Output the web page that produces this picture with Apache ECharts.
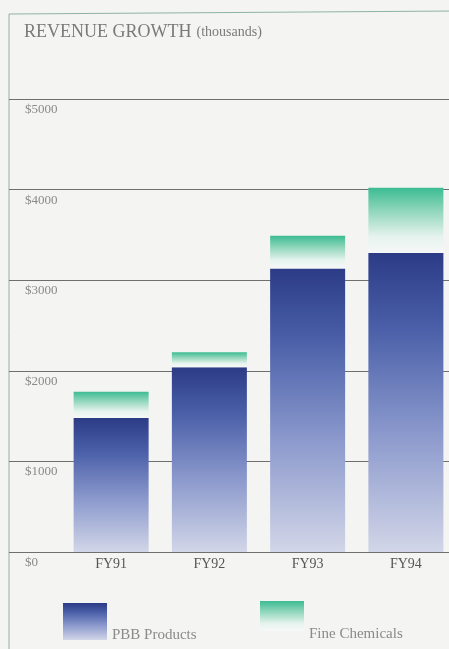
<!DOCTYPE html>
<html>
<head>
<meta charset="utf-8">
<script src="https://cdn.jsdelivr.net/npm/echarts@6/dist/echarts.min.js"></script>
<style>
html,body{margin:0;padding:0;background:#f4f4f2;overflow:hidden;}
#c{width:455px;height:649px;}
</style>
</head>
<body>
<div id="c"></div>
<script>
var categories = ['FY91', 'FY92', 'FY93', 'FY94'];
var pbbProducts = [1480, 2040, 3130, 3300];
var fineChemicals = [290, 165, 360, 720];
var yTicks = [0, 1000, 2000, 3000, 4000, 5000];

var chart = echarts.init(document.getElementById('c'));
var serif = '"Liberation Serif", "DejaVu Serif", serif';

var blueGrad = new echarts.graphic.LinearGradient(0, 0, 0, 1, [
  {offset: 0, color: '#2c3b86'},
  {offset: 0.25, color: '#4a5fa8'},
  {offset: 0.6, color: '#8a98cc'},
  {offset: 1, color: '#d2d6e8'}
]);
var greenGrad = new echarts.graphic.LinearGradient(0, 0, 0, 1, [
  {offset: 0, color: '#3cbc93'},
  {offset: 0.35, color: '#8fd6bb'},
  {offset: 0.75, color: '#e6f3ee'},
  {offset: 1, color: '#f6f8f7'}
]);

chart.setOption({
  backgroundColor: '#f4f4f2',
  animation: false,
  title: {
    text: '{a|REVENUE GROWTH} {b|(thousands)}',
    left: 24, top: 23, padding: 0,
    textStyle: {
      rich: {
        a: {fontFamily: serif, fontSize: 18, fontWeight: 'normal', color: '#7a7a7a'},
        b: {fontFamily: serif, fontSize: 14, fontWeight: 'normal', color: '#7a7a7a'}
      }
    }
  },
  graphic: [
    {type: 'line', shape: {x1: 9, y1: 14, x2: 455, y2: 11}, style: {stroke: '#8fb2a6', lineWidth: 1}, silent: true},
    {type: 'line', shape: {x1: 9, y1: 14, x2: 9, y2: 649}, style: {stroke: '#8fb2a6', lineWidth: 1}, silent: true}
  ],
  legend: [
    {data: ['PBB Products'], left: 63, top: 603, padding: 0, icon: 'rect',
     itemWidth: 44, itemHeight: 37,
     formatter: function (n) { return '{t|' + n + '}'; },
     textStyle: {rich: {t: {fontFamily: serif, fontSize: 15, color: '#8a8a8a', padding: [28, 0, 0, 0]}}}},
    {data: ['Fine Chemicals'], left: 260, top: 601, padding: 0, icon: 'rect',
     itemWidth: 44, itemHeight: 30,
     formatter: function (n) { return '{t|' + n + '}'; },
     textStyle: {rich: {t: {fontFamily: serif, fontSize: 15, color: '#8a8a8a', padding: [36, 0, 0, 0]}}}}
  ],
  grid: [
    {left: 9, right: 0, top: 99, bottom: 97},
    {left: 62, right: 0, top: 99, bottom: 97}
  ],
  xAxis: [
    {type: 'value', gridIndex: 0, show: false},
    {type: 'category', gridIndex: 1, data: categories,
     axisLine: {show: false}, axisTick: {show: false},
     axisLabel: {fontFamily: serif, fontSize: 14, color: '#555', margin: 5}}
  ],
  yAxis: [
    {type: 'value', gridIndex: 0, min: 0, max: 5000, interval: 1000,
     axisLine: {show: false}, axisTick: {show: false},
     splitLine: {show: true, lineStyle: {color: '#6f6f6f', width: 1}},
     axisLabel: {inside: true, margin: 16, fontFamily: serif, fontSize: 13, color: '#8a8a8a',
       verticalAlign: 'top', padding: [4, 0, 0, 0],
       formatter: function (v) { return '$' + v; }}},
    {type: 'value', gridIndex: 1, min: 0, max: 5000, interval: 1000, show: false,
     splitLine: {show: false}}
  ],
  series: [
    {name: 'PBB Products', type: 'bar', stack: 'rev', xAxisIndex: 1, yAxisIndex: 1,
     barWidth: 75, data: pbbProducts, itemStyle: {color: blueGrad}},
    {name: 'Fine Chemicals', type: 'bar', stack: 'rev', xAxisIndex: 1, yAxisIndex: 1,
     barWidth: 75, data: fineChemicals, itemStyle: {color: greenGrad}}
  ]
});
</script>
</body>
</html>
